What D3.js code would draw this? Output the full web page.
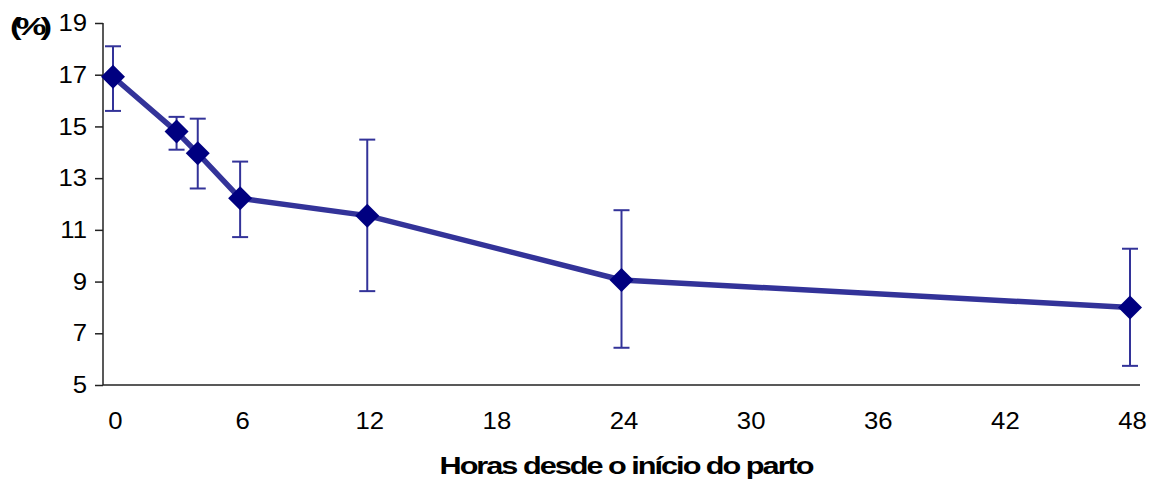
<!DOCTYPE html>
<html><head><meta charset="utf-8">
<script src="https://cdn.jsdelivr.net/npm/d3@7"></script>
<style>body{margin:0;background:#fff}svg{display:block}</style>
</head><body>
<svg id="c" width="1152" height="479"></svg>
<script>
const hours = [0, 3, 4, 6, 12, 24, 48];
const values = [16.92, 14.8, 13.96, 12.22, 11.55, 9.06, 8.0];
const errHigh = [18.1, 15.37, 15.3, 13.64, 14.49, 11.76, 10.27];
const errLow = [15.6, 14.1, 12.6, 10.72, 8.63, 6.44, 5.74];
const xTicks = [0, 6, 12, 18, 24, 30, 36, 42, 48];
const yTicks = [5, 7, 9, 11, 13, 15, 17, 19];
const xTitle = "Horas desde o início do parto";
const yTitle = "(%)";

const svg = d3.select("#c");
const x = d3.scaleLinear().domain([0, 48]).range([113, 1130]);
const y = d3.scaleLinear().domain([5, 19]).range([385, 23]);
const font = "'Liberation Sans', Arial, sans-serif";

function stretch(sel, k) {
  sel.each(function () {
    const w = this.getComputedTextLength();
    d3.select(this).attr("textLength", w * k).attr("lengthAdjust", "spacingAndGlyphs");
  });
}

// axes
const yAxis = svg.append("g").attr("transform", "translate(103,0)")
  .call(d3.axisLeft(y).tickValues(yTicks).tickSize(8).tickPadding(8).tickFormat(d3.format("d")));
yAxis.select(".domain").attr("d", `M0,${y(19)}V${y(5)}`).attr("stroke", "#222").attr("stroke-width", 1.5);
yAxis.selectAll(".tick line").attr("stroke", "#222").attr("stroke-width", 1.5);
yAxis.selectAll("text").attr("font-family", font).attr("font-size", 24).attr("fill", "#000");
stretch(yAxis.selectAll("text"), 1.07);

const xAxis = svg.append("g").attr("transform", `translate(0,${y(5)})`)
  .call(d3.axisBottom(x).tickValues(xTicks).tickSize(0).tickPadding(27).tickFormat(d3.format("d")));
xAxis.select(".domain").attr("d", "M103,0H1140").attr("stroke", "#222").attr("stroke-width", 1.5);
xAxis.selectAll("text").attr("font-family", font).attr("font-size", 24).attr("fill", "#000").attr("x", 2);
stretch(xAxis.selectAll("text"), 1.07);

// titles
svg.append("text").attr("x", 626).attr("y", 474).attr("text-anchor", "middle")
  .attr("font-family", font).attr("font-size", 23).attr("font-weight", "bold")
  .attr("letter-spacing", -1.5).text(xTitle)
  .attr("textLength", 373).attr("lengthAdjust", "spacingAndGlyphs");
svg.append("text").attr("x", 10).attr("y", 35)
  .attr("font-family", font).attr("font-size", 23).attr("font-weight", "bold")
  .attr("letter-spacing", -4).text(yTitle)
  .attr("textLength", 36).attr("lengthAdjust", "spacingAndGlyphs");

const color = "#333399";
const data = hours.map((h, i) => ({h, v: values[i], hi: errHigh[i], lo: errLow[i]}));

// error bars
const eb = svg.append("g").attr("stroke", color).attr("stroke-width", 2).attr("fill", "none");
eb.selectAll(".v").data(data).join("line")
  .attr("x1", d => x(d.h)).attr("x2", d => x(d.h)).attr("y1", d => y(d.hi)).attr("y2", d => y(d.lo));
eb.selectAll(".t").data(data).join("line")
  .attr("x1", d => x(d.h) - 8).attr("x2", d => x(d.h) + 8).attr("y1", d => y(d.hi)).attr("y2", d => y(d.hi));
eb.selectAll(".b").data(data).join("line")
  .attr("x1", d => x(d.h) - 8).attr("x2", d => x(d.h) + 8).attr("y1", d => y(d.lo)).attr("y2", d => y(d.lo));

// line
svg.append("path").datum(data)
  .attr("d", d3.line().x(d => x(d.h)).y(d => y(d.v)))
  .attr("fill", "none").attr("stroke", color).attr("stroke-width", 5.5).attr("stroke-linejoin", "round");

// markers
svg.append("g").selectAll("path").data(data).join("path")
  .attr("transform", d => `translate(${x(d.h)},${y(d.v)})`)
  .attr("d", "M0,-12L12,0L0,12L-12,0Z").attr("fill", "#000080");
</script>
</body></html>
